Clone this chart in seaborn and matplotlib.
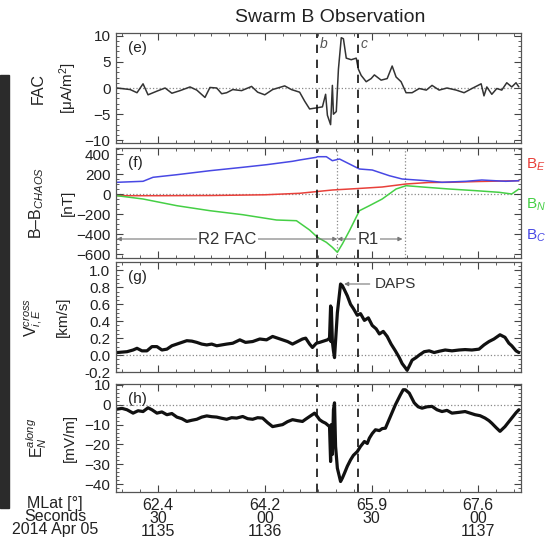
"""Swarm B observation panels (e)-(h): FAC, B-B_CHAOS, ion drift, electric field."""
import matplotlib
matplotlib.use("Agg")
import matplotlib.pyplot as plt
import matplotlib.transforms as mtransforms
from matplotlib.patches import Rectangle
from matplotlib.ticker import MultipleLocator, FixedLocator
import seaborn as sns

# time axis: seconds after 2014-04-05 11:35:00 UT
tick_sec = [30, 60, 90, 120]
tick_mlat = ["62.4", "64.2", "65.9", "67.6"]
tick_ss = ["30", "00", "30", "00"]
tick_hhmm = ["1135", "1136", "", "1137"]

# (e) field-aligned current [uA/m^2]
fac_t = [18.5, 22.2, 24.1, 25.8, 27.2, 29.7, 32.0, 33.9, 36.2, 39.0, 40.9, 43.2, 44.6,
         46.5, 47.9, 49.3, 51.0, 53.5, 56.3, 58.0, 60.0, 62.2, 65.6, 67.5, 69.8, 71.2,
         72.6, 74.5, 76.2, 77.1, 77.6, 78.5, 79.0, 79.3, 80.1, 80.7, 81.5, 82.1, 82.9,
         84.3, 85.7, 86.3, 87.1, 88.5, 89.9, 90.8, 92.7, 94.4, 95.8, 96.9, 98.3, 99.7,
         101.4, 103.4, 105.4, 107.0, 109.0, 111.2, 113.8, 116.0, 118.2, 120.8, 121.6,
         122.4, 123.8, 125.2, 126.6, 128.0, 129.4, 130.6, 131.4]
fac_v = [0.0, -0.3, -0.9, 0.8, -1.3, -0.6, 0.0, -1.0, -0.5, 0.2, -0.4, -1.8, 0.1,
         0.0, -1.1, -0.9, -0.3, -0.5, 0.3, -0.8, -1.3, -0.3, 0.4, -0.3, -0.8, -2.5,
         -4.0, -3.8, -3.6, -1.2, -5.2, -7.0, 0.5, -5.0, -4.5, 3.6, 9.6, 9.4, 5.7,
         5.4, 5.7, 3.6, 2.4, 1.2, 1.8, 2.5, 1.5, 1.8, 4.2, 2.1, 1.2, -0.9,
         -0.9, -0.1, -0.4, 0.5, -0.4, 0.0, -0.4, -0.9, -0.1, 0.8, -1.5,
         0.2, -1.2, -0.1, -0.4, 1.0, 0.2, 1.0, 0.2]

# (f) B - B_CHAOS [nT]
be_t = [18.5, 30.0, 45.0, 60.0, 69.8, 79.0, 86.3, 93.0, 99.7, 106.0, 112.0, 120.0, 131.4]
be_v = [-17, -17, -15, -8, 7, 40, 55, 70, 100, 115, 117, 125, 133]
bn_t = [18.5, 25.8, 35.3, 44.6, 53.8, 63.3, 68.9, 72.6, 74.8, 77.3, 79.0, 80.4, 81.8,
        83.8, 86.6, 89.4, 93.0, 96.9, 99.7, 105.4, 111.8, 119.4, 125.8, 129.4, 131.4]
bn_v = [-17, -50, -117, -167, -207, -260, -267, -360, -433, -483, -533, -583, -500,
        -367, -167, -117, -50, 50, 83, 67, 50, 33, 17, 0, 50]
bc_t = [18.5, 25.8, 28.6, 35.3, 44.6, 53.8, 60.5, 67.8, 69.8, 74.5, 74.8, 77.3, 79.0,
        81.0, 83.8, 86.6, 90.2, 95.0, 98.6, 105.4, 109.8, 116.6, 121.0, 127.7, 131.4]
bc_v = [117, 127, 167, 193, 233, 267, 293, 327, 340, 367, 373, 373, 333,
        350, 300, 250, 240, 183, 150, 133, 117, 127, 140, 127, 133]

# (g) cross-track ion drift [km/s]
vi_t = [18.5, 21.3, 23.0, 24.1, 25.5, 26.9, 28.3, 29.7, 31.1, 32.5, 33.9, 35.3, 36.7,
        38.1, 39.5, 40.9, 42.3, 43.7, 45.1, 46.5, 47.9, 49.3, 51.0, 53.0, 54.6, 56.6,
        58.6, 60.5, 62.2, 63.6, 65.0, 66.4, 67.8, 69.2, 70.6, 71.5, 72.6, 73.4, 74.5,
        75.4, 76.5, 77.6, 78.2, 78.5, 78.6, 78.7, 79.0, 79.3, 79.6, 80.4, 81.3, 81.8,
        82.4, 83.2, 84.1, 84.9, 86.0, 86.9, 88.0, 89.1, 90.2, 91.3, 92.2, 93.3, 94.4,
        95.5, 96.7, 97.8, 98.6, 99.5, 100.0, 100.6, 101.4, 102.5, 103.4, 104.8, 106.2,
        107.6, 109.0, 110.7, 112.6, 114.6, 116.3, 118.2, 120.2, 121.6, 123.0, 124.4,
        126.1, 127.5, 128.6, 129.4, 130.6, 131.4]
vi_v = [0.03, 0.04, 0.06, 0.08, 0.05, 0.05, 0.10, 0.10, 0.06, 0.07, 0.11, 0.13, 0.15,
        0.17, 0.165, 0.15, 0.13, 0.12, 0.13, 0.11, 0.12, 0.13, 0.14, 0.18, 0.15, 0.16,
        0.19, 0.18, 0.22, 0.20, 0.18, 0.16, 0.13, 0.16, 0.19, 0.20, 0.13, 0.09, 0.14,
        0.15, 0.165, 0.18, 0.20, 0.58, 0.16, 0.56, 0.16, 0.05, -0.03, 0.50, 0.84, 0.82,
        0.77, 0.70, 0.60, 0.55, 0.47, 0.49, 0.41, 0.44, 0.35, 0.31, 0.25, 0.28, 0.22,
        0.13, 0.05, -0.03, -0.10, -0.15, -0.18, -0.13, -0.06, -0.03, 0.0, 0.04, 0.05,
        0.03, 0.045, 0.06, 0.05, 0.06, 0.065, 0.06, 0.07, 0.12, 0.16, 0.19,
        0.24, 0.21, 0.14, 0.11, 0.05, 0.03]

# (h) along-track electric field [mV/m]
en_t = [18.5, 19.9, 21.3, 23.0, 24.4, 25.8, 27.2, 28.3, 29.7, 31.1, 32.5, 33.9, 35.3,
        36.7, 38.1, 39.5, 40.9, 42.3, 43.7, 45.1, 46.5, 47.9, 49.3, 50.7, 52.1, 53.8,
        55.2, 56.6, 58.0, 59.4, 60.8, 62.2, 63.6, 65.0, 66.4, 67.8, 69.2, 70.6, 71.7,
        72.6, 74.0, 74.8, 75.4, 76.2, 77.1, 78.2, 78.5, 78.7, 79.0, 79.3, 79.6, 79.9,
        80.4, 81.3, 81.8, 82.4, 83.2, 84.1, 84.9, 86.0, 86.9, 88.0, 88.8, 89.4, 90.2,
        91.1, 92.2, 93.0, 93.9, 95.3, 96.7, 98.1, 98.9, 99.5, 100.6, 102.0, 103.1,
        104.2, 105.6, 107.0, 108.4, 109.8, 111.2, 112.6, 114.6, 116.3, 117.7, 119.1,
        120.5, 121.9, 123.0, 123.8, 125.0, 126.1, 127.5, 128.6, 129.4, 130.6, 131.4]
en_v = [-2.2, -1.8, -2.5, -4.2, -3.0, -3.4, -1.5, -2.5, -4.2, -3.6, -5.0, -4.4, -6.2,
        -7.0, -8.4, -7.8, -7.3, -6.2, -5.6, -6.0, -6.2, -6.8, -7.3, -6.5, -6.7, -5.9,
        -7.0, -7.3, -6.5, -6.7, -9.0, -11.0, -10.5, -10.0, -8.5, -7.5, -8.0, -8.4, -7.0,
        -5.9, -4.2, -6.0, -7.5, -8.5, -9.3, -11.0, -28.6, -10.0, -25.0, -2.5, 1.0, -21.0,
        -32.0, -38.7, -37.0, -34.5, -31.0, -27.8, -25.5, -23.6, -21.0, -18.5, -19.5, -16.8, -14.5,
        -12.6, -13.0, -12.0, -11.8, -5.9, 0.0, 5.0, 7.6, 7.6, 5.9, 1.0, -1.0,
        -1.7, -1.0, -0.8, -2.5, -3.4, -2.8, -4.2, -3.8, -3.4, -4.2, -5.0,
        -5.5, -6.7, -8.0, -9.3, -11.5, -13.4, -11.0, -8.5, -6.7, -4.0, -2.5]

t_b, t_c = 74.8, 86.3          # event lines b and c
t_r1_start, t_r1_end = 80.4, 99.5

sns.set_theme(style="ticks")
plt.rcParams["font.family"] = ["Liberation Sans", "DejaVu Sans"]
plt.rcParams["mathtext.fontset"] = "custom"
plt.rcParams["mathtext.rm"] = "Liberation Sans"
plt.rcParams["mathtext.it"] = "Liberation Sans:italic"
plt.rcParams["axes.unicode_minus"] = True

W = 546.0
fig = plt.figure(figsize=(5.46, 5.46), dpi=100)
fig.patch.set_facecolor("white")


def box(top, bottom):
    return [116 / W, 1 - bottom / W, 405 / W, (bottom - top) / W]


ax_e = fig.add_axes(box(33, 143))
ax_f = fig.add_axes(box(148, 258))
ax_g = fig.add_axes(box(262, 372))
ax_h = fig.add_axes(box(384, 492))
axes = [ax_e, ax_f, ax_g, ax_h]

sns.lineplot(x=fac_t, y=fac_v, ax=ax_e, color="#333333", linewidth=1.1,
             estimator=None, sort=False)
sns.lineplot(x=be_t, y=be_v, ax=ax_f, color="#e8403a", linewidth=1.1, estimator=None, sort=False)
sns.lineplot(x=bn_t, y=bn_v, ax=ax_f, color="#45cf45", linewidth=1.1, estimator=None, sort=False)
sns.lineplot(x=bc_t, y=bc_v, ax=ax_f, color="#4848e4", linewidth=1.1, estimator=None, sort=False)
sns.lineplot(x=vi_t, y=vi_v, ax=ax_g, color="#111111", linewidth=2.3, estimator=None, sort=False)
sns.lineplot(x=en_t, y=en_v, ax=ax_h, color="#111111", linewidth=2.3, estimator=None, sort=False)

limits = [(-10.5, 10.5), (-640, 460), (-0.2, 1.1), (-44, 10.5)]
majors = [5, 200, 0.2, 10]
minors = [1, 50, 0.05, 2]
panel_tags = ["(e)", "(f)", "(g)", "(h)"]

for ax, lim, mj, mn, tag in zip(axes, limits, majors, minors, panel_tags):
    ax.set_xlim(18.2, 132.0)
    ax.set_ylim(*lim)
    ax.xaxis.set_major_locator(FixedLocator(tick_sec))
    ax.xaxis.set_minor_locator(MultipleLocator(5))
    ax.yaxis.set_major_locator(MultipleLocator(mj))
    ax.yaxis.set_minor_locator(MultipleLocator(mn))
    ax.tick_params(which="both", direction="in", top=True, right=True,
                   colors="#444444", labelcolor="#222222", labelsize=11, pad=4)
    ax.tick_params(which="major", length=5, width=0.8)
    ax.tick_params(which="minor", length=2.5, width=0.6)
    for sp in ax.spines.values():
        sp.set_color("#555555")
        sp.set_linewidth(0.9)
    ax.axhline(0, color="#888888", linestyle=":", linewidth=0.9, zorder=0)
    for tv in (t_b, t_c):
        ax.axvline(tv, color="#111111", linestyle=(0, (5, 4)), linewidth=1.2)
    ax.text(0.03, 0.86, tag, transform=ax.transAxes, fontsize=11,
            color="#222222", va="center", ha="left")
    ax.set_xlabel("")
    ax.set_ylabel("")
    if ax is not ax_h:
        ax.set_xticklabels([])

ax_g.set_yticks([-0.2, 0.0, 0.2, 0.4, 0.6, 0.8, 1.0])
ax_g.set_yticklabels(["-0.2", "0.0", "0.2", "0.4", "0.6", "0.8", "1.0"])

# bottom axis annotation rows
ax_h.set_xticklabels([f"{m}\n{s}\n{h}" for m, s, h in zip(tick_mlat, tick_ss, tick_hhmm)],
                     fontsize=11.5, linespacing=0.85, va="top")
fig.text(55 / W, 1 - 496 / W, "MLat [°]\nSeconds\n2014 Apr 05", ha="center", va="top",
         fontsize=11.5, linespacing=0.85, color="#222222")

# panel (f) extras
for tv in (t_r1_start, t_r1_end):
    ax_f.axvline(tv, color="#888888", linestyle=":", linewidth=0.9, zorder=0)
ax_f.annotate("", xy=(18.4, -450), xytext=(t_r1_start, -450),
              arrowprops=dict(arrowstyle="<|-|>", color="#777777", lw=0.8,
                              mutation_scale=6, shrinkA=0, shrinkB=0))
ax_f.annotate("", xy=(t_r1_start, -450), xytext=(t_r1_end - 0.8, -450),
              arrowprops=dict(arrowstyle="<|-|>", color="#777777", lw=0.8,
                              mutation_scale=6, shrinkA=0, shrinkB=0))
ax_f.text(49.5, -450, "R2 FAC", ha="center", va="center", fontsize=12, color="#333333",
          bbox=dict(facecolor="white", edgecolor="none", pad=1))
ax_f.text(89.0, -450, "R1", ha="center", va="center", fontsize=12, color="#333333",
          bbox=dict(facecolor="white", edgecolor="none", pad=1))

# panel (g) DAPS marker
ax_g.annotate("DAPS", xy=(82.3, 0.84), xytext=(90.8, 0.84), ha="left", va="center",
              fontsize=11, color="#333333",
              arrowprops=dict(arrowstyle="-|>", color="#777777", lw=0.8,
                              mutation_scale=6, shrinkA=1, shrinkB=0))

# event tags b, c
tr_e = mtransforms.blended_transform_factory(ax_e.transData, ax_e.transAxes)
ax_e.text(t_b + 0.6, 0.9, "b", transform=tr_e, fontsize=10, style="italic",
          color="#555555", va="center")
ax_e.text(t_c + 0.6, 0.9, "c", transform=tr_e, fontsize=10, style="italic",
          color="#555555", va="center")

# y labels, two columns each
ylabels = [("FAC", "[μA/m$^2$]", 38, 68),
           ("B–B$_{CHAOS}$", "[nT]", 37, 68),
           ("V$_{i,E}^{cross}$", "[km/s]", 33, 63),
           ("E$_N^{along}$", "[mV/m]", 37, 70)]
for ax, (l1, l2, x1, x2) in zip(axes, ylabels):
    tr = mtransforms.blended_transform_factory(fig.transFigure, ax.transAxes)
    ax.text(x1 / W, 0.5, l1, transform=tr, rotation=90, ha="center", va="center",
            fontsize=11.5, color="#222222")
    ax.text(x2 / W, 0.5, l2, transform=tr, rotation=90, ha="center", va="center",
            fontsize=11, color="#222222")

# component labels on the right margin
for txt, col, yp in [("B$_E$", "#e8403a", 165), ("B$_N$", "#45cf45", 205),
                     ("B$_C$", "#4848e4", 236)]:
    fig.text(526 / W, 1 - yp / W, txt, color=col, fontsize=11, ha="left", va="center")

fig.text(330 / W, 1 - 18 / W, "Swarm B Observation", ha="center", va="center",
         fontsize=14, color="#222222")

# dark strip of the neighbouring image at the left edge
fig.patches.append(Rectangle((0, 1 - 508 / W), 9 / W, (508 - 75) / W,
                             transform=fig.transFigure, color="#2b2b2b", zorder=0))

fig.savefig("out.png", dpi=100)
